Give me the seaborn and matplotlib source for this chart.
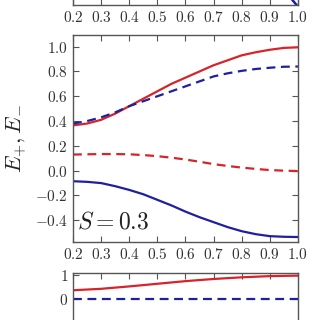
import numpy as np
import pandas as pd
import matplotlib
matplotlib.use("Agg")
import matplotlib.pyplot as plt
from matplotlib.ticker import FuncFormatter
import seaborn as sns

# values
x = [0.2, 0.25, 0.3, 0.35, 0.4, 0.45, 0.5, 0.55, 0.6,
     0.65, 0.7, 0.75, 0.8, 0.85, 0.9, 0.95, 1.0]
e_plus_solid = [0.365, 0.38, 0.41, 0.46, 0.52, 0.58, 0.64, 0.70, 0.75,
                0.80, 0.85, 0.89, 0.93, 0.955, 0.975, 0.99, 0.995]
e_minus_dashed = [0.38, 0.40, 0.43, 0.47, 0.52, 0.56, 0.60, 0.64, 0.68,
                  0.72, 0.76, 0.785, 0.805, 0.82, 0.83, 0.838, 0.84]
e_plus_dashed = [0.13, 0.132, 0.134, 0.134, 0.132, 0.126, 0.117, 0.105, 0.09,
                 0.072, 0.053, 0.038, 0.025, 0.014, 0.005, 0.0, -0.003]
e_minus_solid = [-0.085, -0.09, -0.10, -0.125, -0.155, -0.19, -0.235, -0.28, -0.33,
                 -0.375, -0.415, -0.455, -0.488, -0.512, -0.528, -0.533, -0.535]

top_x = [0.2, 0.5, 0.8, 0.9, 0.95, 0.98, 1.0]
top_blue = [0.3, 0.2, 0.0, -0.15, -0.35, -0.53, -0.62]

low_x = [0.2, 0.3, 0.4, 0.5, 0.6, 0.7, 0.8, 0.9, 1.0]
low_red = [0.36, 0.42, 0.52, 0.63, 0.74, 0.83, 0.90, 0.95, 0.97]
low_blue = [0, 0, 0, 0, 0, 0, 0, 0, 0]

xticks = [0.2, 0.3, 0.4, 0.5, 0.6, 0.7, 0.8, 0.9, 1.0]
yticks_top = [0.0, 0.5, 1.0]
yticks_mid = [-0.4, -0.2, 0.0, 0.2, 0.4, 0.6, 0.8, 1.0]
yticks_low = [0, 1]

RED = "#d8232a"
BLUE = "#1f1fa0"
DASH = (0, (4, 2.5))

sns.set_style("ticks")
plt.rcParams["mathtext.fontset"] = "cm"
plt.rcParams["font.family"] = ["DejaVu Serif"]
plt.rcParams["axes.edgecolor"] = "#555555"
plt.rcParams["xtick.color"] = "#555555"
plt.rcParams["ytick.color"] = "#555555"
plt.rcParams["xtick.labelcolor"] = "#333333"
plt.rcParams["ytick.labelcolor"] = "#333333"

fmt1 = FuncFormatter(lambda v, p: r"$%.1f$" % v)
fmt0 = FuncFormatter(lambda v, p: r"$%d$" % round(v))


def style(ax):
    ax.tick_params(direction="in", top=True, right=True, length=4, width=0.8,
                   labelsize=11)
    for s in ax.spines.values():
        s.set_linewidth(1.0)
        s.set_visible(True)
    ax.set_xlim(0.2, 1.0)
    ax.set_xticks(xticks)
    ax.xaxis.set_major_formatter(fmt1)
    ax.set_xlabel("")
    ax.set_ylabel("")


fig = plt.figure(figsize=(3.2, 3.2), dpi=100)

# top panel (mostly cut off by the crop)
ax_top = fig.add_axes([0.228, 0.984, 0.703, 0.4])
sns.lineplot(x=top_x, y=top_blue, ax=ax_top, color=BLUE, lw=1.8)
style(ax_top)
ax_top.set_ylim(-0.6, 1.1)
ax_top.set_yticks(yticks_top)
ax_top.tick_params(labelleft=False)

# middle panel
ax = fig.add_axes([0.228, 0.2438, 0.703, 0.6468])
df = pd.DataFrame({"x": x, "rs": e_plus_solid, "bd": e_minus_dashed,
                   "rd": e_plus_dashed, "bs": e_minus_solid})
sns.lineplot(data=df, x="x", y="rs", ax=ax, color=RED, lw=1.6)
sns.lineplot(data=df, x="x", y="bd", ax=ax, color=BLUE, lw=1.6, ls=DASH)
sns.lineplot(data=df, x="x", y="rd", ax=ax, color=RED, lw=1.6, ls=DASH)
sns.lineplot(data=df, x="x", y="bs", ax=ax, color=BLUE, lw=1.6)
style(ax)
ax.set_ylim(-0.575, 1.094)
ax.set_yticks(yticks_mid)
ax.yaxis.set_major_formatter(fmt1)
ax.set_ylabel(r"$E_{+}, E_{-}$", fontsize=16, labelpad=4)
ax.text(0.02, 0.04, r"$S = 0.3$", transform=ax.transAxes, fontsize=17,
        color="#222222", ha="left", va="bottom")

# bottom panel (mostly cut off by the crop)
ax_low = fig.add_axes([0.228, -0.1625, 0.703, 0.3094])
sns.lineplot(x=low_x, y=low_red, ax=ax_low, color=RED, lw=1.6)
sns.lineplot(x=low_x, y=low_blue, ax=ax_low, color=BLUE, lw=1.6, ls=DASH)
style(ax_low)
ax_low.tick_params(labelbottom=False)
ax_low.set_ylim(-3.05, 1.08)
ax_low.set_yticks(yticks_low)
ax_low.yaxis.set_major_formatter(fmt0)

fig.savefig("out.png", dpi=100)
